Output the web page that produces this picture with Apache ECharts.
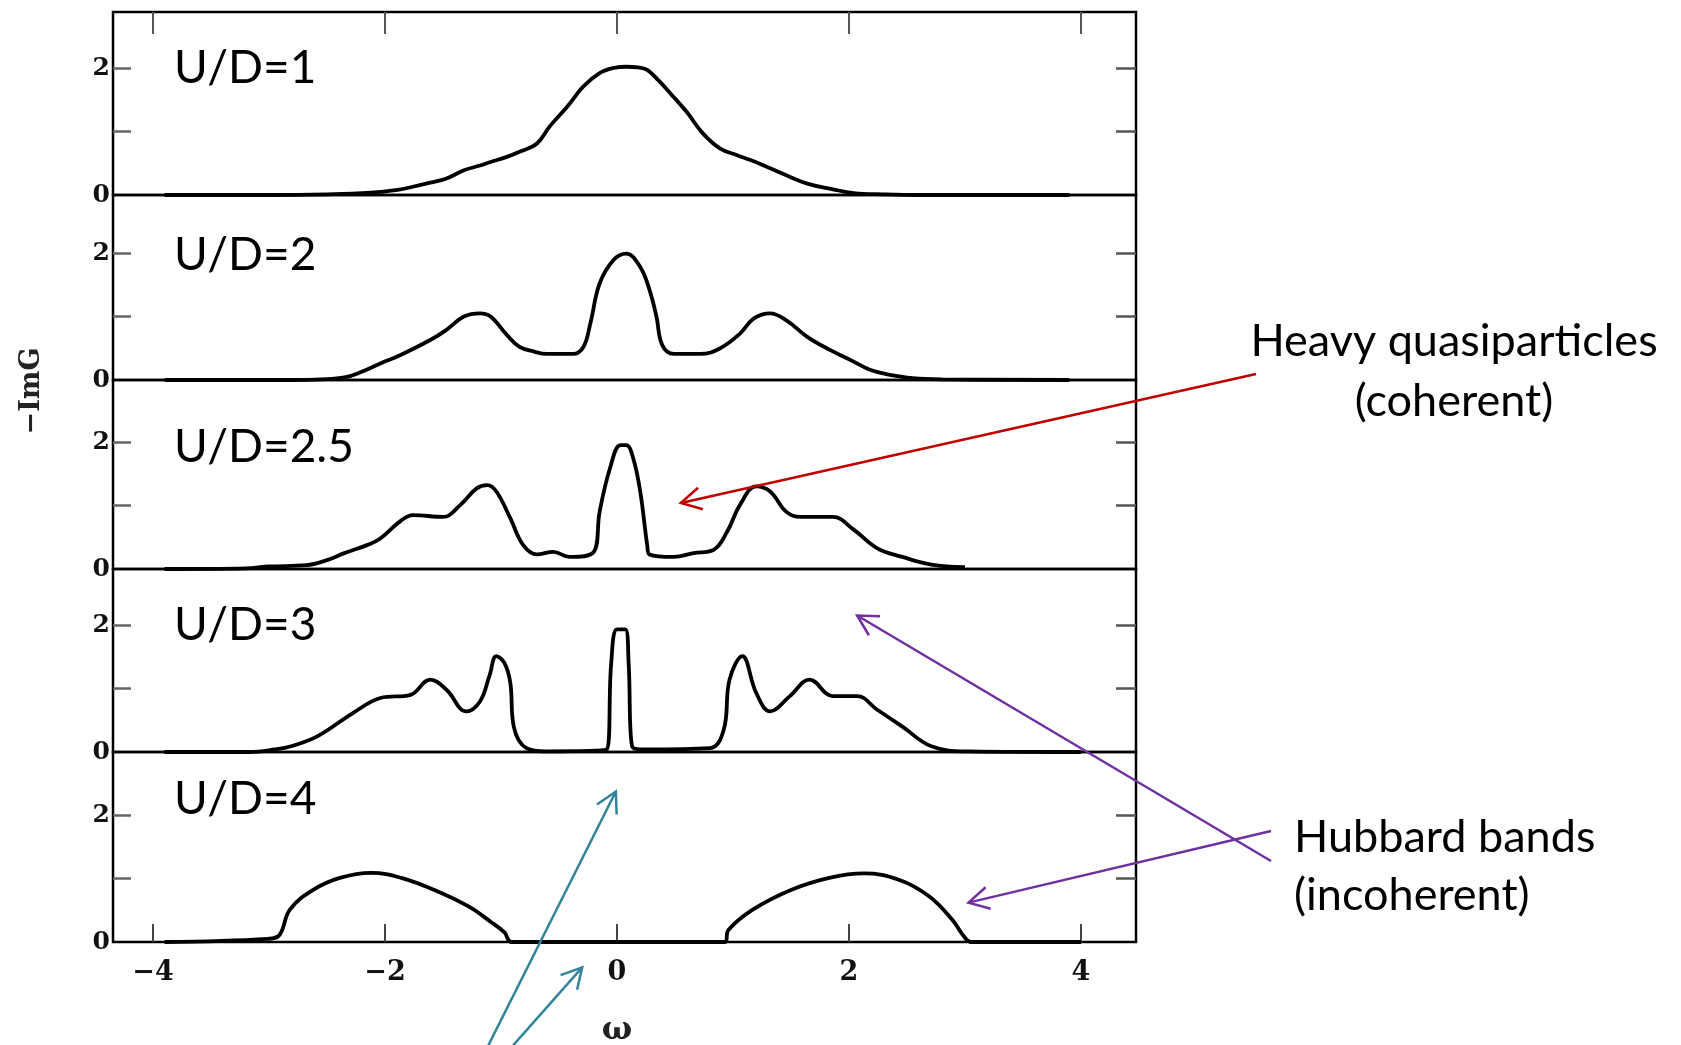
<!DOCTYPE html>
<html><head><meta charset="utf-8">
<script src="https://cdn.jsdelivr.net/npm/echarts@6/dist/echarts.min.js"></script>
<style>html,body{margin:0;padding:0;background:#fff}#c{width:1681px;height:1045px}</style>
</head><body><div id="c"></div>
<script>
// ---------- data ----------
const panelLabels = ['U/D=1', 'U/D=2', 'U/D=2.5', 'U/D=3', 'U/D=4'];
const xTickValues = [-4, -2, 0, 2, 4];
const yTickValues = [1, 2];
const yLabelValues = [0, 2];
const yAxisName = '\u2212ImG';
const xAxisName = '\u03c9';

const omega1 = [-3.9,-3.0,-2.5,-2.2,-2.04,-1.89,-1.76,-1.62,-1.47,-1.32,-1.19,-1.09,-0.95,-0.84,-0.69,-0.58,-0.43,-0.29,-0.15,-0.03,0.08,0.18,0.26,0.36,0.46,0.6,0.74,0.89,1.03,1.15,1.26,1.46,1.64,1.86,2.04,2.3,2.6,3.9];
const dos1   = [0,0,0.01,0.03,0.05,0.08,0.13,0.19,0.26,0.39,0.46,0.52,0.6,0.68,0.81,1.08,1.39,1.71,1.92,2.0,2.02,2.01,1.97,1.8,1.6,1.31,0.97,0.73,0.63,0.55,0.47,0.31,0.18,0.09,0.03,0.01,0,0];

const omega2 = [-3.9,-2.8,-2.55,-2.35,-2.2,-2.04,-1.87,-1.61,-1.47,-1.32,-1.18,-1.09,-0.95,-0.84,-0.72,-0.61,-0.38,-0.29,-0.23,-0.15,-0.03,0.08,0.2,0.28,0.34,0.39,0.49,0.72,0.89,1.06,1.18,1.32,1.46,1.64,1.84,2.04,2.18,2.33,2.55,2.8,3.9];
const dos2   = [0,0,0.01,0.04,0.13,0.26,0.39,0.63,0.79,1.0,1.05,1.0,0.71,0.52,0.45,0.41,0.41,0.52,0.89,1.52,1.89,1.99,1.78,1.42,1.0,0.55,0.41,0.41,0.5,0.73,0.97,1.05,0.94,0.68,0.47,0.29,0.16,0.09,0.03,0.01,0];

const omega3 = [-3.9,-3.2,-3.0,-2.68,-2.5,-2.35,-2.15,-2.04,-1.87,-1.76,-1.5,-1.35,-1.21,-1.12,-1.04,-0.92,-0.81,-0.69,-0.55,-0.41,-0.2,-0.15,-0.06,0.03,0.08,0.14,0.2,0.26,0.28,0.49,0.66,0.83,0.95,1.06,1.2,1.32,1.46,1.58,1.86,2.04,2.24,2.46,2.71,3.0];
const dos3   = [0,0.01,0.04,0.06,0.14,0.25,0.38,0.48,0.75,0.85,0.82,1.01,1.27,1.32,1.22,0.8,0.38,0.23,0.27,0.19,0.27,0.9,1.59,1.95,1.95,1.74,1.22,0.38,0.23,0.19,0.25,0.3,0.59,1.01,1.3,1.22,0.9,0.82,0.82,0.62,0.33,0.19,0.07,0.03];

const omega4 = [-3.9,-3.17,-2.95,-2.81,-2.58,-2.28,-2.04,-1.78,-1.61,-1.47,-1.3,-1.18,-1.1,-1.04,-0.97,-0.92,-0.89,-0.78,-0.61,-0.09,-0.05,0.0,0.07,0.1,0.13,0.26,0.8,0.92,0.97,1.08,1.2,1.32,1.49,1.66,1.86,2.07,2.24,2.46,2.71,3.03,4.0];
const dos4   = [0,0,0.04,0.09,0.25,0.61,0.85,0.9,1.14,0.98,0.64,0.8,1.2,1.51,1.4,1.09,0.4,0.06,0.01,0.04,1.4,1.93,1.93,1.4,0.09,0.04,0.06,0.35,1.14,1.51,0.93,0.64,0.88,1.14,0.88,0.88,0.67,0.4,0.09,0.01,0];

const omega5 = [-3.9,-3.01,-2.91,-2.82,-2.62,-2.39,-2.12,-1.86,-1.55,-1.28,-1.09,-0.97,-0.91,0.93,0.96,1.17,1.5,1.83,2.13,2.43,2.69,2.89,2.99,3.05,4.0];
const dos5   = [0,0.05,0.11,0.51,0.82,1.01,1.09,1.01,0.8,0.56,0.32,0.15,0,0,0.19,0.51,0.82,1.01,1.08,0.98,0.72,0.35,0.09,0,0];

const omegas = [omega1, omega2, omega3, omega4, omega5];
const dosList = [dos1, dos2, dos3, dos4, dos5];

// ---------- layout (not data) ----------
const gridTop = [12, 195, 380, 569, 752];
const gridBottom = [195, 380, 569, 752, 942];
const PX_PER_UNIT = 63.5;
const X_MIN = -4.345, X_MAX = 4.474;
const GRID_LEFT = 113, GRID_WIDTH = 1023;
const labelAnchor = [[-3.82, 2.0], [-3.82, 1.97], [-3.82, 1.92], [-3.82, 2.0], [-3.82, 2.25]];

const serif = 'DejaVu Serif';
const sans = 'Lato';

const chart = echarts.init(document.getElementById('c'), null, {renderer: 'canvas'});

const grids = [], xAxes = [], yAxes = [], series = [];
for (let i = 0; i < 5; i++) {
  grids.push({left: GRID_LEFT, width: GRID_WIDTH, top: gridTop[i], height: gridBottom[i] - gridTop[i],
    show: true, borderColor: '#000', borderWidth: 2.5, backgroundColor: 'transparent',
    containLabel: false, outerBoundsMode: 'none'});
  xAxes.push({gridIndex: i, type: 'value', min: X_MIN, max: X_MAX, position: 'bottom',
    axisLine: {show: false, onZero: false}, splitLine: {show: false},
    axisTick: {show: i === 4, inside: true, length: 18, customValues: xTickValues, lineStyle: {color: '#444', width: 2}},
    axisLabel: {show: i === 4, customValues: xTickValues, margin: 17,
      formatter: v => (v < 0 ? '\u2212' + Math.abs(v) : String(v)),
      fontFamily: serif, fontWeight: 'bold', fontSize: 27, color: '#111'}});
  const ymax = (gridBottom[i] - gridTop[i]) / PX_PER_UNIT;
  yAxes.push({gridIndex: i, type: 'value', min: 0, max: ymax, position: 'left',
    axisLine: {show: false, onZero: false}, splitLine: {show: false},
    axisTick: {show: true, inside: true, length: 18, customValues: yTickValues, lineStyle: {color: '#666', width: 2.5}},
    axisLabel: {show: true, customValues: yLabelValues, margin: 3,
      fontFamily: serif, fontWeight: 'bold', fontSize: 25, color: '#111'}});
  yAxes.push({gridIndex: i, type: 'value', min: 0, max: ymax, position: 'right',
    axisLine: {show: false, onZero: false}, splitLine: {show: false},
    axisTick: {show: true, inside: true, length: 20, customValues: yTickValues, lineStyle: {color: '#555', width: 2.5}},
    axisLabel: {show: false}});
  series.push({type: 'line', xAxisIndex: i, yAxisIndex: 2 * i,
    data: omegas[i].map((w, k) => [w, dosList[i][k]]),
    showSymbol: false, smooth: 0.4,
    lineStyle: {color: '#000', width: 3.8}, silent: true, clip: true});
}
// top x-axis ticks on first panel
xAxes.push({gridIndex: 0, type: 'value', min: X_MIN, max: X_MAX, position: 'top',
  axisLine: {show: false, onZero: false}, splitLine: {show: false},
  axisTick: {show: true, inside: true, length: 22, customValues: xTickValues, lineStyle: {color: '#555', width: 2}},
  axisLabel: {show: false}});

chart.setOption({
  animation: false,
  backgroundColor: '#fff',
  grid: grids, xAxis: xAxes, yAxis: yAxes, series: series
});

// ---------- annotations ----------
const RED = '#C00000', PURPLE = '#7030A0', TEAL = '#31849B';
function arrow(from, to, color, w) {
  const ang = Math.atan2(to[1] - from[1], to[0] - from[0]);
  const L = 23, a = 0.5;
  const p1 = [to[0] - L * Math.cos(ang - a), to[1] - L * Math.sin(ang - a)];
  const p2 = [to[0] - L * Math.cos(ang + a), to[1] - L * Math.sin(ang + a)];
  return [
    {type: 'line', shape: {x1: from[0], y1: from[1], x2: to[0], y2: to[1]}, style: {stroke: color, lineWidth: w}, silent: true, z: 100},
    {type: 'polyline', shape: {points: [p1, to, p2]}, style: {stroke: color, lineWidth: w, fill: null}, silent: true, z: 100}
  ];
}
const px = (g, pt) => chart.convertToPixel({gridIndex: g}, pt);

const graphics = [];
for (let i = 0; i < 5; i++) {
  const p = px(i, labelAnchor[i]);
  graphics.push({type: 'text', x: p[0], y: p[1], silent: true, z: 100,
    style: {text: panelLabels[i], font: '46px ' + sans, fill: '#000', textAlign: 'left', textVerticalAlign: 'middle'}});
}
// axis names
graphics.push({type: 'text', x: 32, y: 391, rotation: Math.PI / 2, silent: true,
  style: {text: yAxisName, font: 'bold 27px ' + serif, fill: '#222', textAlign: 'center', textVerticalAlign: 'middle'}});
const w0 = px(4, [0, 0]);
graphics.push({type: 'text', x: w0[0], y: 1031, silent: true,
  style: {text: xAxisName, font: 'bold 32px ' + serif, fill: '#222', textAlign: 'center', textVerticalAlign: 'middle'}});
// right-side captions
graphics.push({type: 'text', x: 1454, y: 341, silent: true,
  style: {text: 'Heavy quasiparticles', font: '45px ' + sans, fill: '#000', textAlign: 'center', textVerticalAlign: 'middle'}});
graphics.push({type: 'text', x: 1454, y: 401, silent: true,
  style: {text: '(coherent)', font: '45px ' + sans, fill: '#000', textAlign: 'center', textVerticalAlign: 'middle'}});
graphics.push({type: 'text', x: 1294, y: 837, silent: true,
  style: {text: 'Hubbard bands', font: '45px ' + sans, fill: '#000', textAlign: 'left', textVerticalAlign: 'middle'}});
graphics.push({type: 'text', x: 1294, y: 895, silent: true,
  style: {text: '(incoherent)', font: '45px ' + sans, fill: '#000', textAlign: 'left', textVerticalAlign: 'middle'}});
// arrows (tips anchored in data coordinates)
graphics.push(...arrow([1256, 374], px(2, [0.55, 1.04]), RED, 2.5));
graphics.push(...arrow([1271, 861], px(3, [2.07, 2.15]), PURPLE, 2.5));
graphics.push(...arrow([1271, 831], px(4, [3.03, 0.62]), PURPLE, 2.5));
graphics.push(...arrow([486, 1050], px(4, [-0.01, 2.37]), TEAL, 2.5));
graphics.push(...arrow([509, 1050], px(4, [-0.30, -0.40]), TEAL, 2.5));

chart.setOption({graphic: graphics});
</script>
</body></html>
